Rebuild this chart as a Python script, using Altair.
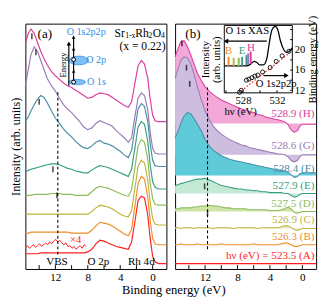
import altair as alt
import pandas as pd

SERIF = "Liberation Serif"
W, H = 146, 254

# ---------------- data ----------------
energy = [15.7, 15.3, 15.0, 14.6, 14.2, 13.8, 13.4, 13.0,
          12.5, 12.0, 11.5, 11.0, 10.5, 10.0, 9.5, 9.0, 8.5, 8.0,
          7.5, 7.0, 6.5, 6.0, 5.5, 5.0, 4.5, 4.0, 3.5, 3.0,
          2.6, 2.2, 1.8, 1.4, 1.0, 0.6, 0.3, 0.0,
          -0.3, -0.7, -1.2, -1.7]

names = ["H", "G", "F", "E", "D", "C", "B", "A"]
line_colors = ["#dc3e9e", "#9b7bb6", "#4a8ea6", "#3a9f80", "#8cbd5a", "#c2b33a", "#ee8f2a", "#ff1e1e"]
fill_colors = ["#f4a8d8", "#cdbee0", "#5fcbd9", "#c4e9d4", "#d0e4a8", "#eeebc8", "#fbe3c8", "#ffffff"]

# panel (a): photoemission spectra (arb. units)
a_H = [251, 263, 267, 262, 252, 242, 234, 227, 220, 215, 211, 207, 204, 202, 199, 196, 193, 190,
       191, 194, 196, 195, 194, 191, 188, 185, 182, 180, 186, 206, 226, 232, 228, 212, 189, 171,
       165, 164, 164, 164]
a_G = [204, 224, 239, 247, 242, 232, 222, 212, 204, 198, 190, 183, 178, 174, 169, 164, 158, 155,
       157, 162, 165, 163, 161, 159, 154, 150, 146, 141, 146, 169, 190, 196, 193, 177, 152, 134,
       129, 128, 128, 128]
a_F = [164, 170, 176, 183, 189, 193, 191, 185, 176, 168, 162, 156, 151, 147, 142, 138, 135, 134,
       137, 141, 143, 140, 139, 137, 134, 131, 127, 124, 132, 156, 178, 184, 181, 164, 139, 121,
       115, 114, 114, 114]
a_E = [108, 110, 111, 112, 113, 114, 115, 116, 117, 117, 116, 114, 112, 111, 109, 108, 107, 107,
       110, 113, 115, 114, 113, 111, 109, 107, 105, 103, 111, 134, 158, 164, 161, 142, 116, 97,
       91, 89, 89, 89]
a_D = [82, 82, 82, 83, 83, 83, 83, 83, 84, 84, 84, 83, 83, 83, 82, 82, 82, 82,
       86, 90, 92, 91, 90, 88, 86, 84, 82, 81, 88, 112, 137, 144, 141, 122, 96, 78,
       72, 71, 71, 71]
a_C = [61, 61, 61, 61, 61, 61, 61, 61, 61, 61, 61, 61, 61, 61, 61, 61, 61, 61,
       64, 68, 71, 70, 69, 67, 64, 61, 59, 58, 65, 89, 114, 121, 118, 99, 74, 56,
       50, 49, 49, 49]
a_B = [40, 40, 41, 41, 41, 41, 41, 41, 41, 41, 41, 41, 41, 40, 40, 40, 40, 40,
       43, 48, 52, 51, 50, 48, 45, 42, 39, 37, 44, 69, 95, 103, 100, 80, 54, 34,
       28, 27, 27, 27]
a_A = [17, 17, 17, 17, 17, 18, 18, 18, 18, 18, 18, 18, 18, 18, 18, 18, 18, 19,
       22, 28, 32, 31, 29, 27, 25, 24, 23, 22, 30, 52, 76, 81, 79, 60, 34, 14,
       8, 6, 6, 6]

# x4 magnified spectrum (A)
x4_energy = [15.7, 15.45, 15.2, 14.95, 14.7, 14.45, 14.2, 13.95, 13.7, 13.45, 13.2, 12.95, 12.7,
             12.45, 12.2, 11.95, 11.7, 11.45, 11.2, 10.95, 10.7, 10.45, 10.2, 9.95, 9.7, 9.45,
             9.2, 8.95, 8.7, 8.45, 8.2]
x4_int = [24, 26, 23, 25, 27, 24, 26, 28, 25, 27, 29, 27, 30, 28, 31, 33, 30, 32, 29, 27, 29, 25,
          26, 23, 25, 22, 24, 26, 23, 27, 25]

# panel (b): difference spectra and their baselines
b_H = [236, 246, 253, 254, 248, 239, 229, 219, 210, 203, 198, 194, 191, 188, 186, 184, 182, 180,
       178, 177, 175, 174, 172, 171, 169, 168, 167, 166, 165, 164, 161, 155, 152, 154, 159, 161,
       161, 161, 161, 161]
b_G = [212, 224, 232, 236, 235, 229, 218, 204, 189, 176, 166, 159, 154, 150, 147, 144, 142, 140,
       138, 137, 135, 134, 133, 132, 131, 130, 129, 128, 128, 127, 125, 121, 119, 121, 125, 127,
       127, 127, 127, 127]
b_F = [146, 154, 162, 170, 174, 173, 168, 162, 154, 144, 137, 132, 129, 126, 124, 122, 121, 120,
       119, 118, 117, 116, 115, 114, 113, 112, 111, 110, 110, 109, 108, 105, 102, 103, 106, 107,
       107, 107, 107, 107]
b_E = [93, 94, 95, 96, 97, 98, 99, 100, 100, 101, 99, 97, 95, 93, 92, 91, 90, 89,
       89, 88, 88, 87, 87, 86, 86, 85, 85, 85, 85, 84, 84, 82, 80, 81, 83, 84,
       84, 84, 84, 84]
b_D = [67, 67, 68, 68, 68, 68, 69, 69, 70, 70, 71, 70, 70, 69, 68, 68, 67, 67,
       67, 67, 66, 66, 66, 66, 66, 65, 65, 65, 66, 67, 69, 67, 63, 62, 63, 64,
       64, 64, 64, 64]
b_C = [46, 46, 45, 46, 46, 46, 45, 46, 46, 46, 46, 45, 46, 46, 46, 46, 45, 46,
       46, 46, 46, 46, 45, 46, 46, 46, 46, 46, 47, 48, 48, 46, 44, 43, 44, 45,
       45, 45, 45, 45]
b_B = [27, 27, 28, 27, 27, 27, 27, 28, 27, 27, 27, 27, 27, 28, 27, 27, 27, 27,
       27, 27, 27, 28, 27, 27, 27, 27, 27, 27, 28, 29, 29, 27, 25, 25, 26, 27,
       27, 27, 27, 27]
b_A = [6, 6, 6, 6, 6, 6, 6, 6, 6, 6, 6, 6, 6, 6, 6, 6, 6, 6,
       6, 6, 6, 6, 6, 6, 6, 6, 6, 6, 6, 6, 6, 6, 6, 6, 6, 6,
       6, 6, 6, 6]
b_base = [162, 127, 104, 84, 64, 45, 27, 6]
b_labels = ["528.9 (H)", "528.6 (G)", "528.4 (F)", "527.9 (E)", "527.5 (D)",
            "526.9 (C)", "526.3 (B)", "hν (eV) = 523.5 (A)"]
b_label_I = [172, 137, 111, 92, 72, 54, 35, 14]

# VBS markers
mark_a_E = [14.9, 14.4, 14.0, 12.3, 11.8]
mark_a_I = [259, 241, 186, 111, 82]
mark_b_E = [14.86, 14.3, 13.9, 12.06, 11.7]
mark_b_I = [251, 224, 206, 92, 62]

# inset: O 1s XAS and O 1s2p2p binding energy
xas_hv = [525.8, 527.3, 528.4, 528.9, 529.3, 529.6, 530.0, 530.4, 530.8, 531.1, 531.4, 531.8,
          532.1, 532.4, 532.8, 533.1, 533.4, 533.8]
xas_int = [30, 30, 30, 32, 35, 34, 31, 31, 38, 56, 70, 74, 70, 58, 48, 45, 46, 50]
auger_hv = [527.6, 527.8, 528.4, 528.7, 529.05, 529.4, 529.75, 530.3, 531.2, 531.9, 532.6, 533.4]
auger_be = [11.6, 12.0, 14.0, 14.2, 14.5, 14.8, 15.0, 15.6, 16.5, 17.7, 18.8, 19.7]
fit_hv = [527.5, 533.5]
fit_be = [11.5, 19.4]
bar_hv = [526.3, 526.9, 527.5, 527.9, 528.4, 528.6, 528.9]
bar_lo = [30, 30, 30, 30, 31, 31, 32]
bar_hi = [40, 39, 39, 40, 42, 44, 46]

# ---------------- helpers ----------------
xs = alt.Scale(domain=[-1.7, 15.7], reverse=True, nice=False, zero=False)
ys = alt.Scale(domain=[0, 273], nice=False, zero=False)
xaxis = alt.Axis(values=[0, 4, 8, 12], title=None, ticks=False, domain=False, grid=False,
                 labelFontSize=11.5, labelPadding=3, labelFont=SERIF, format="d")


def X():
    return alt.X("E:Q", scale=xs, axis=xaxis)


def Ya():
    return alt.Y("I:Q", scale=ys, axis=alt.Axis(title="Intensity (arb. units)", labels=False,
                                                ticks=False, domain=False, grid=False,
                                                titleFontSize=12.5, titlePadding=3,
                                                titleFont=SERIF, titleFontWeight="normal"))


def Yb():
    return alt.Y("I:Q", scale=ys, axis=None)


def txt(Yf, E, I, text, **kw):
    st = dict(font=SERIF, fontSize=11.5, color="black", baseline="middle", align="center")
    st.update(kw)
    return alt.Chart(pd.DataFrame({"E": [E], "I": [I], "t": [text]})).mark_text(**st).encode(
        x=X(), y=Yf(), text="t:N")


def ticks_layer(Yf):
    return alt.Chart(pd.DataFrame({"E": [0, 2, 4, 6, 8, 10, 12, 14]})).mark_rule(
        color="black", strokeWidth=1).encode(x=X(), y=alt.value(H), y2=alt.value(H - 4))


# ---------------- panel (a) ----------------
series_a = [a_H, a_G, a_F, a_E, a_D, a_C, a_B, a_A]
rows = []
for n, vals in zip(names, series_a):
    for e, v in zip(energy, vals):
        rows.append({"E": e, "I": v, "s": n})
df_a = pd.DataFrame(rows)

layers_a = [ticks_layer(Ya)]
layers_a.append(alt.Chart(df_a).mark_line(strokeWidth=1.2).encode(
    x=X(), y=Ya(),
    color=alt.Color("s:N", scale=alt.Scale(domain=names, range=line_colors), legend=None),
    detail="s:N"))
layers_a.append(alt.Chart(pd.DataFrame({"E": x4_energy, "I": x4_int})).mark_line(
    strokeWidth=1, color="#ff1e1e").encode(x=X(), y=Ya()))
layers_a.append(alt.Chart(pd.DataFrame({"E": [11.7], "I": [16], "I2": [197]})).mark_rule(
    strokeDash=[3, 2.5], color="black", strokeWidth=1.1).encode(x=X(), y=Ya(), y2="I2:Q"))
layers_a.append(alt.Chart(pd.DataFrame({"E": mark_a_E, "I": mark_a_I})).mark_tick(
    orient="vertical", size=6, thickness=1.6, color="black").encode(x=X(), y=Ya()))

# energy-level diagram
blue = "#2f8fe8"
layers_a.append(alt.Chart(pd.DataFrame({"E": [9.3], "I": [208]})).mark_point(
    shape="M-1,0A1,0.32,0,1,1,1,0A1,0.32,0,1,1,-1,0Z", size=290, filled=True,
    fill="#7ec0f5", stroke=blue, strokeWidth=0.8, opacity=1).encode(x=X(), y=Ya()))
layers_a.append(alt.Chart(pd.DataFrame({"E": [9.1], "I": [232]})).mark_point(
    shape="M-1,0A1,0.45,0,1,1,1,0A1,0.45,0,1,1,-1,0Z", size=400, filled=True,
    fill="#7ec0f5", stroke=blue, strokeWidth=0.8, opacity=1).encode(x=X(), y=Ya()))
layers_a.append(alt.Chart(pd.DataFrame({"E": [10.34], "I": [204], "I2": [250]})).mark_rule(
    color="black", strokeWidth=1.2).encode(x=X(), y=Ya(), y2="I2:Q"))
layers_a.append(alt.Chart(pd.DataFrame({"E": [10.34], "I": [251]})).mark_point(
    shape="triangle-up", size=22, filled=True, color="black", opacity=1).encode(x=X(), y=Ya()))
layers_a.append(alt.Chart(pd.DataFrame({"E": [9.75], "I": [208], "I2": [258]})).mark_rule(
    color="black", strokeWidth=1.2).encode(x=X(), y=Ya(), y2="I2:Q"))
layers_a.append(alt.Chart(pd.DataFrame({"E": [9.75, 9.75, 9.75], "I": [220, 245, 258]})).mark_point(
    shape="triangle-up", size=14, filled=True, color="black", opacity=1).encode(x=X(), y=Ya()))
layers_a.append(alt.Chart(pd.DataFrame({"E": [9.75, 9.75], "I": [208, 233]})).mark_point(
    shape="circle", size=16, filled=True, fill="white", stroke="black", strokeWidth=1,
    opacity=1).encode(x=X(), y=Ya()))
layers_a.append(txt(Ya, 11.0, 227, "Energy", angle=270, fontSize=9))
layers_a.append(txt(Ya, 8.2, 264, "O 1s2p2p", color=blue, fontSize=10.5))
layers_a.append(txt(Ya, 8.2, 232, "O 2p", color=blue, fontSize=10.5, align="left"))
layers_a.append(txt(Ya, 8.1, 208, "O 1s", color=blue, fontSize=10.5, align="left"))

# labels
layers_a.append(txt(Ya, 13.3, 261, "(a)", fontSize=13.5))
formula = [("Sr", 0, 0, 12), ("1-x", 11, 3, 8), ("Rh", 21.5, 0, 12), ("2", 35, 3, 8),
           ("O", 39.5, 0, 12), ("4", 48, 3, 8)]
for t, dx, dy, fs in formula:
    layers_a.append(txt(Ya, 4.7, 262, t, align="left", dx=dx, dy=dy, fontSize=fs))
layers_a.append(txt(Ya, 4.1, 248, "(x = 0.22)", align="left", fontSize=12))
layers_a.append(txt(Ya, 11.8, 8, "VBS"))
layers_a.append(txt(Ya, 6.7, 8, "O 2p"))
layers_a.append(txt(Ya, 1.4, 8, "Rh 4d"))
layers_a.append(txt(Ya, 9.5, 32, "×4", color="#ff1e1e", fontSize=11))

panel_a = alt.layer(*layers_a).properties(width=W, height=H)

# ---------------- panel (b) ----------------
series_b = [b_H, b_G, b_F, b_E, b_D, b_C, b_B, b_A]
layers_b = [ticks_layer(Yb)]
for i, (n, vals) in enumerate(zip(names, series_b)):
    df = pd.DataFrame({"E": energy, "I": vals, "base": [b_base[i]] * len(energy)})
    if n != "A":
        layers_b.append(alt.Chart(df).mark_area(color=fill_colors[i], opacity=1).encode(
            x=X(), y=Yb(), y2="base:Q"))
    layers_b.append(alt.Chart(df).mark_line(color=line_colors[i], strokeWidth=1.1).encode(
        x=X(), y=Yb()))
for i in range(len(names)):
    layers_b.append(txt(Yb, -1.5, b_label_I[i], b_labels[i], align="right",
                        color=line_colors[i], fontSize=11.5))
layers_b.append(alt.Chart(pd.DataFrame({"E": [11.7], "I": [22], "I2": [202]})).mark_rule(
    strokeDash=[3, 2.5], color="black", strokeWidth=1.1).encode(x=X(), y=Yb(), y2="I2:Q"))
layers_b.append(alt.Chart(pd.DataFrame({"E": mark_b_E, "I": mark_b_I})).mark_tick(
    orient="vertical", size=6, thickness=1.6, color="black").encode(x=X(), y=Yb()))
layers_b.append(txt(Yb, 13.5, 261, "(b)", fontSize=13.5))
main_b = alt.layer(*layers_b)

# ---------------- inset ----------------
ix0 = (225.7 - 172) * W / 154
ix1 = (300 - 172) * W / 154
iyb = (78 - 1) * H / 273
iyt = (3 - 1) * H / 273
hv_dom = [525.8, 533.8]
be_dom = [11.5, 24.8]
hx = alt.Scale(domain=hv_dom, range=[ix0, ix1], nice=False, zero=False)
by = alt.Scale(domain=be_dom, range=[iyb, iyt], nice=False, zero=False)
xy = alt.Scale(domain=[0, 75], range=[iyb, iyt], nice=False, zero=False)

hx_axis = alt.Axis(orient="bottom", offset=-(H - iyb), values=[528, 532], ticks=False,
                   domain=False, grid=False, title="hν (eV)", titleFont=SERIF,
                   titleFontSize=11, titleFontWeight="normal", labelFontSize=11,
                   labelPadding=2, titlePadding=0, labelFont=SERIF,
                   titleX=(243 - 172) * W / 154, titleAlign="center", zindex=1)
by_axis = alt.Axis(orient="right", offset=-(W - ix1), values=[12, 16, 20], ticks=False,
                   domain=False, grid=False, title="Binding energy (eV)", titleAngle=270,
                   titleBaseline="top", zindex=1,
                   titleFont=SERIF, titleFontSize=11, titleFontWeight="normal",
                   labelFontSize=11, labelPadding=2, titlePadding=2, labelFont=SERIF)
xy_axis = alt.Axis(orient="left", offset=-ix0, labels=False, ticks=False, domain=False,
                   grid=False, title=["Intensity", "(arb. units)"], titleFont=SERIF,
                   titleFontSize=11, titleFontWeight="normal", titlePadding=3,
                   titleLineHeight=11, zindex=1)


def HX():
    return alt.X("hv:Q", scale=hx, axis=hx_axis)


def BY():
    return alt.Y("be:Q", scale=by, axis=by_axis)


def XY():
    return alt.Y("xas:Q", scale=xy, axis=xy_axis)


def itxt(hv, be, text, **kw):
    st = dict(font=SERIF, fontSize=11, color="black", baseline="middle", align="center")
    st.update(kw)
    return alt.Chart(pd.DataFrame({"hv": [hv], "be": [be], "t": [text]})).mark_text(**st).encode(
        x=HX(), y=BY(), text="t:N")


be_layers = [
    alt.Chart(pd.DataFrame({"hv": [hv_dom[0]], "hv2": [hv_dom[1]], "be": [be_dom[0]],
                            "be2": [be_dom[1]]})).mark_rect(
        fill="white", stroke="black", strokeWidth=1).encode(x=HX(), x2="hv2:Q", y=BY(), y2="be2:Q"),
    alt.Chart(pd.DataFrame({"hv": [526, 528, 530, 532], "be": [11.5] * 4, "be2": [12.0] * 4})).mark_rule(
        color="black").encode(x=HX(), y=BY(), y2="be2:Q"),
    alt.Chart(pd.DataFrame({"be": [12, 14, 16, 18, 20, 22, 24], "hv": [533.8] * 7,
                            "hv2": [533.55] * 7})).mark_rule(color="black").encode(
        y=BY(), x=HX(), x2="hv2:Q"),
    alt.Chart(pd.DataFrame({"hv": fit_hv, "be": fit_be})).mark_line(
        color="#ff2020", strokeDash=[1.5, 2], strokeWidth=1.3).encode(x=HX(), y=BY()),
    alt.Chart(pd.DataFrame({"hv": auger_hv, "be": auger_be})).mark_point(
        shape="circle", size=18, color="black", strokeWidth=0.9, opacity=1).encode(x=HX(), y=BY()),
    alt.Chart(pd.DataFrame({"hv": [526.0, 530.8], "be": [21.7, 21.7]})).mark_line(
        color="black", strokeWidth=1.2).encode(x=HX(), y=BY()),
    alt.Chart(pd.DataFrame({"hv": [526.0], "be": [21.7]})).mark_point(
        shape="triangle-left", size=28, filled=True, color="black", opacity=1).encode(x=HX(), y=BY()),
    alt.Chart(pd.DataFrame({"hv": [530.4, 533.0], "be": [14.9, 14.9]})).mark_line(
        color="black", strokeWidth=1.2).encode(x=HX(), y=BY()),
    alt.Chart(pd.DataFrame({"hv": [533.1], "be": [14.9]})).mark_point(
        shape="triangle-right", size=28, filled=True, color="black", opacity=1).encode(x=HX(), y=BY()),
    itxt(525.95, 23.6, "O 1s XAS", align="left", fontSize=11),
    itxt(531.9, 13.3, "O 1s2p2p", fontSize=11),
]
inset_be = alt.layer(*be_layers)

bar_colors = ["#ee8f2a", "#c2b33a", "#8cbd5a", "#3a9f80", "#4a8ea6", "#9b7bb6", "#dc3e9e"]
xas_layers = [
    alt.Chart(pd.DataFrame({"hv": xas_hv, "xas": xas_int})).mark_line(
        color="black", strokeWidth=1.3, interpolate="monotone").encode(x=HX(), y=XY()),
]
for hv, lo, hi, c in zip(bar_hv, bar_lo, bar_hi, bar_colors):
    xas_layers.append(alt.Chart(pd.DataFrame({"hv": [hv], "xas": [lo], "xas2": [hi]})).mark_rule(
        color=c, strokeWidth=2).encode(x=HX(), y=XY(), y2="xas2:Q"))
for hv, v, t, c in [(526.3, 47, "B", "#ee8f2a"), (527.9, 47, "E", "#3a9f80"), (528.95, 50, "H", "#dc3e9e")]:
    xas_layers.append(alt.Chart(pd.DataFrame({"hv": [hv], "xas": [v], "t": [t]})).mark_text(
        font=SERIF, fontSize=11.5, color=c, baseline="middle").encode(x=HX(), y=XY(), text="t:N"))
inset_xas = alt.layer(*xas_layers)

inset = alt.layer(inset_be, inset_xas).resolve_scale(y="independent")

panel_b = alt.layer(main_b, inset).resolve_scale(x="independent", y="independent").properties(
    width=W, height=H)

chart = alt.hconcat(panel_a, panel_b, spacing=3).properties(
    title=alt.TitleParams("Binding energy (eV)", orient="bottom", anchor="middle", font=SERIF,
                          fontSize=13, fontWeight="normal", offset=1, dx=10),
    padding={"left": 1, "top": 1, "right": 1, "bottom": 1},
).configure_view(stroke="black", strokeWidth=1).configure_axis(
    labelColor="black", titleColor="black")

chart.save("out.html", embed_options={"renderer": "svg", "actions": False})
